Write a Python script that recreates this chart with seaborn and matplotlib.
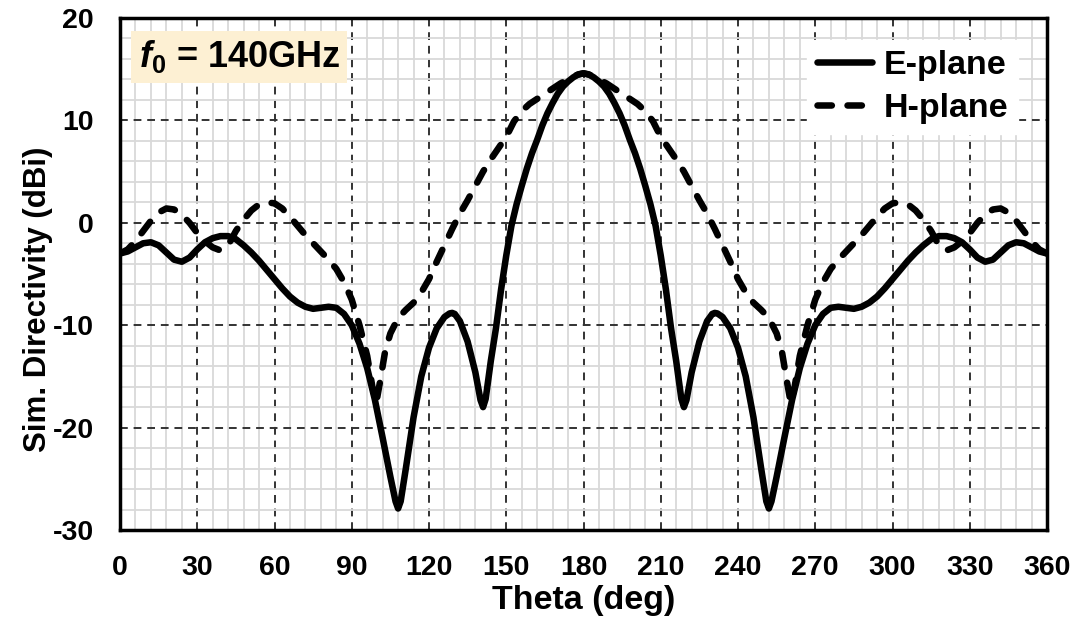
import matplotlib
matplotlib.use("Agg")
import matplotlib.pyplot as plt
import seaborn as sns
import pandas as pd
from matplotlib.ticker import MultipleLocator

# ---- data ----
theta_e = [0, 3, 6, 9, 12, 15, 18, 21, 24, 27, 30, 33, 36, 39, 42, 45, 48, 51, 54, 57,
           60, 63, 66, 69, 72, 75, 78, 81, 84, 87, 90, 93, 96, 99, 102, 105, 107, 108, 109, 111, 114, 117,
           120, 123, 126, 128, 129, 130, 132, 135, 138, 140, 141, 142, 144, 146, 148, 150, 152, 154, 156, 158, 160, 162, 164, 166,
           168, 170, 172, 174, 176, 178, 180,
           182, 184, 186, 188, 190, 192, 194, 196, 198, 200, 202, 204, 206, 208, 210, 212, 214, 216, 218, 219, 220,
           222, 225, 228, 230, 231, 232, 234, 237, 240, 243, 246, 249, 251, 252, 253, 255, 258, 261, 264, 267, 270, 273, 276,
           279, 282, 285, 288, 291, 294, 297, 300, 303, 306, 309, 312, 315, 318, 321, 324, 327, 330, 333,
           336, 339, 342, 345, 348, 351, 354, 357, 360]
e_plane = [-3.0, -2.8, -2.4, -2.0, -1.9, -2.2, -2.9, -3.6, -3.8, -3.4, -2.6, -1.9, -1.5, -1.3, -1.3, -1.6, -2.2, -2.9, -3.7, -4.6,
           -5.5, -6.4, -7.2, -7.8, -8.2, -8.4, -8.3, -8.2, -8.3, -8.9, -10.0, -11.8, -14.2, -17.3, -21.0, -24.8, -27.2, -27.9, -27.2, -24.0, -19.0, -15.0,
           -12.2, -10.3, -9.2, -8.85, -8.8, -8.9, -9.6, -11.6, -14.6, -17.3, -18.0, -17.2, -13.5, -10.3, -6.5, -3.2, -0.3, 1.8, 3.6, 5.3, 6.8, 8.1, 9.5, 10.7,
           11.7, 12.6, 13.3, 13.8, 14.2, 14.5, 14.6,
           14.5, 14.2, 13.8, 13.3, 12.6, 11.7, 10.7, 9.5, 8.1, 6.8, 5.3, 3.6, 1.8, -0.3, -3.2, -6.5, -10.3, -13.5, -17.2, -18.0, -17.3,
           -14.6, -11.6, -9.6, -8.9, -8.8, -8.85, -9.2, -10.3, -12.2, -15.0, -19.0, -24.0, -27.2, -27.9, -27.2, -24.8, -21.0, -17.3, -14.2, -11.8, -10.0, -8.9, -8.3,
           -8.2, -8.3, -8.4, -8.2, -7.8, -7.2, -6.4, -5.5, -4.6, -3.7, -2.9, -2.2, -1.6, -1.3, -1.3, -1.5, -1.9, -2.6, -3.4,
           -3.8, -3.6, -2.9, -2.2, -1.9, -2.0, -2.4, -2.8, -3.0]

theta_h = [0, 3, 6, 9, 12, 15, 18, 21, 24, 27, 30, 33, 36, 39, 42, 45, 48, 51, 54, 57,
           60, 63, 66, 69, 72, 75, 78, 81, 84, 87, 90, 93, 96, 98, 99.5, 101, 103, 105, 108, 111,
           114, 117, 120, 123, 126, 129, 132, 135, 138, 141, 144, 147, 150, 153, 156, 159, 162, 165, 168, 171,
           174, 177, 180,
           183, 186, 189, 192, 195, 198, 201, 204, 207, 210, 213, 216, 219, 222, 225, 228, 231, 234, 237, 240,
           243, 246, 249, 252, 255, 257, 259, 260.5, 262, 264, 267, 270, 273, 276, 279, 282, 285, 288, 291,
           294, 297, 300, 303, 306, 309, 312, 315, 318, 321, 324, 327, 330, 333, 336, 339, 342, 345, 348,
           351, 354, 357, 360]
h_plane = [-3.0, -2.6, -1.8, -0.8, 0.2, 1.0, 1.4, 1.3, 0.8, 0.0, -1.0, -1.8, -2.4, -2.7, -2.2, -0.8, 0.3, 1.2, 1.8, 2.0,
           1.9, 1.4, 0.6, -0.3, -1.2, -2.0, -2.8, -3.6, -4.5, -5.8, -7.5, -10.0, -13.0, -16.0, -17.6, -15.5, -12.5, -10.8, -9.3, -8.5,
           -7.8, -6.8, -5.5, -3.8, -2.2, -0.6, 0.9, 2.2, 3.6, 5.0, 6.2, 7.3, 8.4, 9.9, 10.9, 11.6, 12.1, 12.6, 13.1, 13.6,
           14.0, 14.4, 14.6,
           14.4, 14.0, 13.6, 13.1, 12.6, 12.1, 11.6, 10.9, 9.9, 8.4, 7.3, 6.2, 5.0, 3.6, 2.2, 0.9, -0.6, -2.2, -3.8, -5.5,
           -6.8, -7.8, -8.5, -9.3, -10.8, -12.5, -15.5, -17.6, -16.0, -13.0, -10.0, -7.5, -5.8, -4.5, -3.6, -2.8, -2.0, -1.2, -0.3,
           0.6, 1.4, 1.9, 2.0, 1.8, 1.2, 0.3, -0.8, -2.2, -2.7, -2.4, -1.8, -1.0, 0.0, 0.8, 1.3, 1.4, 1.0, 0.2,
           -0.8, -1.8, -2.6, -3.0]

series_names = ["E-plane", "H-plane"]
x_ticks = list(range(0, 361, 30))
y_ticks = [-30, -20, -10, 0, 10, 20]
annotation = "$\\mathit{f}_0$ = 140GHz"

# ---- styling ----
sns.set_style("white")
plt.rcParams["font.family"] = ["Liberation Sans", "DejaVu Sans"]
plt.rcParams["font.weight"] = "bold"
plt.rcParams["axes.unicode_minus"] = False
for k in ["text.color", "axes.labelcolor", "xtick.color", "ytick.color"]:
    plt.rcParams[k] = "black"
plt.rcParams["mathtext.fontset"] = "custom"
plt.rcParams["mathtext.rm"] = "Liberation Sans:bold"
plt.rcParams["mathtext.it"] = "Liberation Sans:bold:italic"
plt.rcParams["mathtext.bf"] = "Liberation Sans:bold"

fig = plt.figure(figsize=(10.79, 6.29), dpi=100)
ax = fig.add_axes([120 / 1079, 1 - 530 / 629, 927 / 1079, 512 / 629])

df_e = pd.DataFrame({"theta": theta_e, "dir": e_plane})
df_h = pd.DataFrame({"theta": theta_h, "dir": h_plane})

LW = 4.7
sns.lineplot(data=df_e, x="theta", y="dir", ax=ax, color="black", linewidth=LW,
             label=series_names[0], sort=False, zorder=5,
             solid_joinstyle="round", solid_capstyle="round")
sns.lineplot(data=df_h, x="theta", y="dir", ax=ax, color="black", linewidth=LW,
             label=series_names[1], sort=False, zorder=4,
             dash_joinstyle="round", dash_capstyle="round")
ax.lines[1].set_dashes((2.2, 2.4))

ax.set_xlim(0, 360)
ax.set_ylim(-30, 20)
ax.set_xticks(x_ticks)
ax.set_yticks(y_ticks)
ax.xaxis.set_minor_locator(MultipleLocator(6))
ax.yaxis.set_minor_locator(MultipleLocator(2))
ax.grid(which="minor", color="#d9d9d9", linewidth=1.3, linestyle="-")
ax.grid(which="major", color="#333333", linewidth=1.4, linestyle=(0, (4, 3)))
ax.set_axisbelow(True)
ax.tick_params(which="both", length=0, labelsize=20.5)
ax.tick_params(axis="y", pad=19)
ax.tick_params(axis="x", pad=18)
for lab in ax.get_xticklabels() + ax.get_yticklabels():
    lab.set_fontweight("bold")
for sp in ax.spines.values():
    sp.set_linewidth(2.5)
    sp.set_color("black")

ax.set_xlabel("Theta (deg)", fontsize=24.5, fontweight="bold")
ax.set_ylabel("Sim. Directivity (dBi)", fontsize=22.5, fontweight="bold")
ax.xaxis.set_label_coords(0.5, -0.107)
ax.yaxis.set_label_coords(-0.072, 0.45)

leg = ax.legend(loc="upper right", fontsize=24.5, frameon=True, framealpha=1,
                edgecolor="white", fancybox=False, handlelength=1.6,
                bbox_to_anchor=(0.969, 0.958), borderpad=0.3, labelspacing=0.35,
                handletextpad=0.35, borderaxespad=0)
for t in leg.get_texts():
    t.set_fontweight("bold")
for lh in leg.get_lines():
    lh.set_linewidth(LW)

ax.text(0.02, 0.924, annotation, transform=ax.transAxes, fontsize=26,
        fontweight="bold", va="center", ha="left",
        bbox=dict(boxstyle="square,pad=0.2", facecolor="#fdf0d3", edgecolor="none"),
        zorder=6)

fig.savefig("out.png", dpi=100)
